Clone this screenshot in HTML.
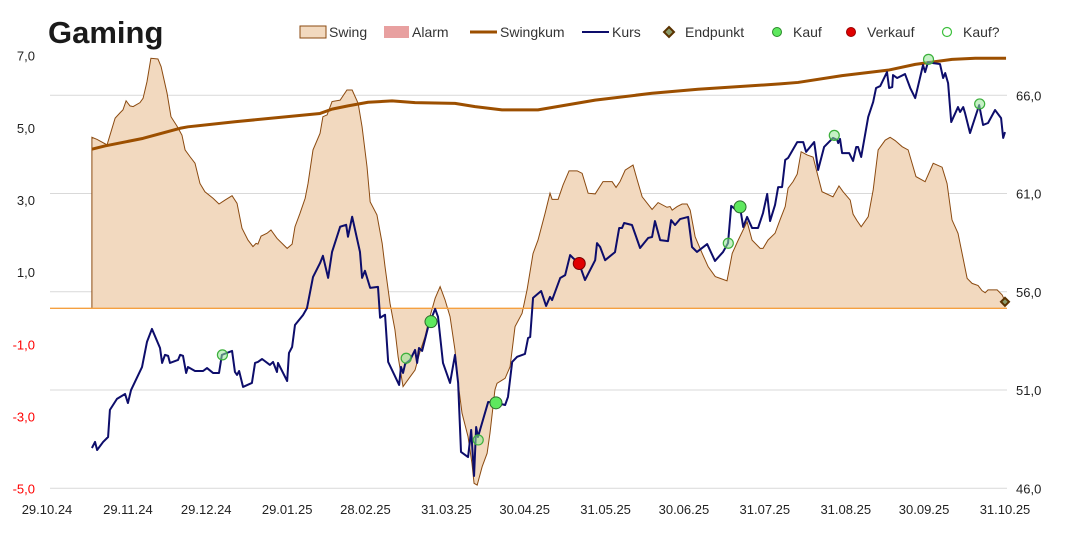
<!DOCTYPE html>
<html><head><meta charset="utf-8"><style>
body{margin:0;background:#fff;width:1067px;height:555px;overflow:hidden;font-family:"Liberation Sans",sans-serif}
svg text{font-family:"Liberation Sans",sans-serif}
</style></head><body>
<svg id="chart" width="1067" height="555" viewBox="0 0 1067 555" xmlns="http://www.w3.org/2000/svg">
<text x="48" y="43" font-size="31" font-weight="bold" fill="#1a1a1a">Gaming</text>
<g id="grid"></g>
<g id="swingG"></g>
<g id="zeroG"></g>
<g id="kumG"></g>
<g id="kursG"></g>
<g id="markG"></g>
<g id="axG"></g>
<g id="legend">
  <g><rect x="300" y="26" width="26" height="12" fill="#f2d9bf" stroke="#8b4a10" stroke-width="1"/><text x="329" y="37" font-size="14" fill="#333">Swing</text></g>
  <g><rect x="384" y="26" width="25" height="12" fill="#e8a0a0"/><text x="412" y="37" font-size="14" fill="#333">Alarm</text></g>
  <g><line x1="470" y1="32" x2="497" y2="32" stroke="#9c4f00" stroke-width="3"/><text x="500" y="37" font-size="14" fill="#333">Swingkum</text></g>
  <g><line x1="582" y1="32" x2="609" y2="32" stroke="#0d0d6b" stroke-width="2"/><text x="612" y="37" font-size="14" fill="#333">Kurs</text></g>
  <g><path d="M669 27 L674 32 L669 37 L664 32 Z" fill="#8a9a6a" stroke="#5a3200" stroke-width="2"/><text x="685" y="37" font-size="14" fill="#333">Endpunkt</text></g>
  <g><circle cx="777" cy="32" r="4.5" fill="#5ee85e" stroke="#2a8a2a" stroke-width="1"/><text x="793" y="37" font-size="14" fill="#333">Kauf</text></g>
  <g><circle cx="851" cy="32" r="4.5" fill="#e00000" stroke="#900" stroke-width="1"/><text x="867" y="37" font-size="14" fill="#333">Verkauf</text></g>
  <g><circle cx="947" cy="32" r="4.5" fill="#fff" stroke="#3cc03c" stroke-width="1.2"/><text x="963" y="37" font-size="14" fill="#333">Kauf?</text></g>
</g>
</svg>
<script>
// day offsets from 29.10.24
const xTickLabels=["29.10.24","29.11.24","29.12.24","29.01.25","28.02.25","31.03.25","30.04.25","31.05.25","30.06.25","31.07.25","31.08.25","30.09.25","31.10.25"];
const xTickDays=[0,31,61,92,122,153,183,214,244,275,306,336,367];
const leftTicks=[-5,-3,-1,1,3,5,7];
const rightTicks=[46,51,56,61,66];
const kursDays=[17.2,18.4,19.2,21.5,23.4,24.1,26.8,29.9,31.0,32.2,36.4,38.3,40.2,43.3,44.1,45.2,46.4,47.1,50.2,51.0,52.1,53.3,54.0,56.7,59.8,61.3,63.6,65.9,67.0,70.9,72.0,72.8,73.6,75.1,78.5,79.7,80.8,82.4,85.4,86.6,88.1,88.5,92.0,92.7,93.9,95.0,98.1,99.6,101.9,104.6,105.7,107.7,109.2,112.3,114.6,115.3,116.9,119.9,120.7,121.8,123.8,126.8,127.6,129.5,130.7,134.9,135.6,136.4,137.2,139.1,141.0,141.8,142.5,143.7,146.0,148.7,149.8,151.7,154.4,156.3,157.5,158.6,161.3,162.5,163.6,164.4,165.1,169.0,172.4,175.5,176.6,178.2,180.1,183.1,184.3,185.1,186.2,189.3,191.2,192.7,193.5,196.6,198.5,200.4,201.5,203.8,206.1,210.0,210.7,211.9,213.8,217.6,219.2,220.3,221.1,224.1,227.2,230.3,231.8,232.9,234.9,237.9,239.1,240.6,242.5,245.6,247.1,249.0,252.9,255.9,259.0,260.9,262.1,263.6,265.5,266.7,268.2,270.1,272.4,274.3,275.9,277.0,278.9,280.1,281.6,282.8,283.9,287.4,289.7,290.8,293.9,295.4,297.7,301.1,302.7,303.1,303.8,304.6,307.3,308.8,310.0,310.7,311.9,314.6,316.5,317.6,319.2,321.8,322.6,323.8,324.1,325.7,328.7,330.7,332.6,335.6,336.4,337.5,339.5,342.1,343.3,344.1,345.2,346.4,349.0,349.8,351.0,351.7,353.6,357.1,358.6,360.5,363.2,365.5,366.3,367.0];
const kursValues=[48.05,48.36,47.95,48.36,48.61,49.99,50.55,50.80,50.34,51.00,52.17,53.45,54.11,53.14,52.38,52.79,52.74,52.38,52.53,52.79,52.74,51.87,52.17,51.97,51.97,52.12,51.87,51.87,52.79,52.99,51.92,51.77,51.97,51.16,51.36,52.38,52.43,52.58,52.28,52.43,51.92,52.38,51.46,52.89,53.19,54.31,54.82,55.17,56.75,57.46,57.83,56.71,58.03,59.31,59.41,58.80,59.82,58.03,56.71,57.07,56.20,56.25,54.68,54.83,52.43,51.26,52.18,51.87,52.33,52.53,53.04,52.38,53.14,52.99,54.21,55.13,54.72,52.38,51.36,52.79,51.36,47.85,47.59,48.97,46.63,49.12,48.61,50.39,50.34,50.24,50.65,52.43,52.69,52.84,53.65,53.70,55.69,56.04,55.28,55.74,55.58,56.70,56.85,57.87,57.72,57.46,56.60,57.61,58.48,58.28,57.61,58.02,59.25,59.25,59.50,59.40,58.23,58.74,58.79,59.60,58.63,58.58,59.65,59.40,59.70,59.81,58.28,58.03,58.43,57.57,58.03,58.48,60.37,60.21,60.31,59.30,59.81,59.25,59.25,60.01,60.98,59.60,60.42,61.33,61.33,62.71,62.81,63.62,63.62,63.12,63.62,62.20,63.37,63.83,63.73,63.57,63.78,63.06,63.06,62.66,63.37,63.37,62.86,64.90,65.66,66.37,66.47,67.18,66.37,66.42,67.03,66.88,67.08,66.37,65.86,67.54,67.18,67.69,67.64,67.59,66.88,67.13,66.62,64.64,65.40,65.15,65.40,65.09,64.08,65.50,64.49,64.59,65.25,64.84,63.83,64.13];
const swingDays=[17.2,19.2,23.0,26.1,28.0,29.1,30.3,31.8,33.0,35.6,36.8,38.3,39.8,42.5,43.7,46.0,47.5,49.8,51.7,52.9,54.8,56.7,58.6,60.5,63.6,65.9,68.2,70.9,72.8,74.7,77.0,78.9,80.1,80.8,82.0,84.3,85.8,88.1,92.0,93.9,95.0,96.9,98.9,100.0,101.9,104.6,105.7,107.3,109.2,112.3,114.9,116.9,119.2,120.7,122.6,123.8,126.4,128.4,129.5,131.4,133.3,134.5,136.4,139.1,141.0,142.9,144.8,146.7,148.7,150.6,152.5,154.4,156.3,157.5,159.0,161.3,162.8,163.6,164.8,166.7,168.6,169.7,171.6,172.4,175.5,177.4,179.3,182.0,183.9,186.2,188.1,190.8,192.7,193.5,195.8,197.7,200.0,203.1,205.0,207.3,210.0,213.0,216.5,218.0,219.5,221.5,224.5,226.1,228.0,231.8,234.1,237.5,238.7,239.5,241.4,243.3,245.2,246.4,248.3,251.0,253.3,256.0,257.9,260.5,262.5,264.8,268.2,270.1,273.2,274.3,276.2,278.9,280.8,282.8,283.9,285.8,287.4,288.9,291.2,293.5,295.4,296.9,301.1,303.4,305.0,307.7,308.8,310.3,311.9,314.6,316.5,318.4,321.1,323.0,324.9,327.6,329.9,332.9,336.4,339.5,342.9,344.8,346.7,349.0,352.5,354.4,356.7,358.2,359.4,360.5,364.0,365.9,367.2];
const swingValues=[4.74,4.68,4.53,5.27,5.42,5.50,5.75,5.61,5.59,5.70,5.82,6.28,6.93,6.91,6.70,5.96,5.31,5.05,4.80,4.39,4.20,4.02,3.46,3.23,3.05,2.89,3.00,3.12,2.91,2.22,1.89,1.71,1.80,1.78,2.00,2.08,2.17,1.94,1.66,1.78,2.26,2.63,3.05,3.46,4.39,4.85,5.31,5.36,5.73,5.77,6.05,6.05,5.68,5.03,3.92,2.95,2.59,1.80,1.15,0.14,-0.60,-1.34,-2.17,-1.90,-1.71,-1.20,-0.79,-0.23,0.28,0.60,0.23,-0.23,-1.16,-2.08,-2.91,-3.56,-4.30,-4.85,-4.90,-4.39,-4.02,-3.46,-2.26,-2.08,-1.94,-1.62,-0.51,-0.14,0.51,1.52,1.89,2.63,3.19,3.02,3.02,3.42,3.81,3.81,3.74,3.19,3.17,3.51,3.51,3.35,3.51,3.83,3.97,3.56,3.09,2.74,2.93,2.80,2.82,2.72,2.82,2.89,2.89,2.72,1.98,1.52,1.15,0.88,0.83,0.76,1.52,1.89,2.40,1.89,1.66,1.66,1.89,2.08,2.45,2.82,3.33,3.51,3.72,4.34,4.25,4.19,3.65,3.23,3.09,3.39,3.23,3.00,2.61,2.43,2.26,2.54,3.28,4.39,4.66,4.74,4.65,4.48,4.39,3.65,3.51,4.02,3.91,3.46,2.45,2.08,0.83,0.69,0.63,0.49,0.43,0.51,0.51,0.37,0.17];
const kumDays=[17.2,22.2,36.8,51.0,54.0,72.0,104.6,109.2,115.3,123.0,132.2,141.0,156.3,164.0,174.3,188.1,210.0,231.8,249.4,280.8,287.7,304.6,322.2,332.6,346.7,355.6,367.4];
const kumValues=[4.41,4.50,4.71,4.99,5.03,5.17,5.40,5.52,5.61,5.71,5.75,5.70,5.68,5.59,5.50,5.50,5.77,5.96,6.07,6.22,6.26,6.45,6.60,6.76,6.90,6.93,6.93];
const kaufDays=[147.1,172.0,265.5];
const kaufValues=[54.48,50.35,60.32];
const verkaufDays=[203.9];
const verkaufValues=[57.44];
const kaufQDays=[67.2,137.6,165.2,261.0,301.6,337.7,357.3];
const kaufQValues=[52.79,52.62,48.46,58.47,63.96,67.83,65.56];
const endDays=[367.0];
const endValues=[0.18];

const NS="http://www.w3.org/2000/svg";
const X0=47,X1=1005,D1=367, PL=50,PR=1007;
const xS=d=>X0+d*(X1-X0)/D1;
const yL=v=>308.3-v*36.08;
const yR=v=>488.3-(v-46)*19.65;
function mk(tag,attrs,parent){const e=document.createElementNS(NS,tag);for(const k in attrs)e.setAttribute(k,attrs[k]);parent.appendChild(e);return e;}
const G=id=>document.getElementById(id);

rightTicks.forEach(t=>{
  const l=mk('line',{x1:PL,x2:PR,y1:yR(t),y2:yR(t),stroke:'#d9d9d9','stroke-width':1},G('grid'));
  
  
  const tx=mk('text',{x:1016,y:yR(t)+5,'font-size':13,fill:'#222'},G('axG'));
  tx.textContent=t.toFixed(1).replace('.',',');
  
  
});
leftTicks.forEach(t=>{
  const tx=mk('text',{x:35,y:yL(t)+5,'font-size':13,fill:t<0?'#ff0000':'#222','text-anchor':'end'},G('axG'));
  tx.textContent=t.toFixed(1).replace('.',',');
  
  
});
xTickLabels.forEach((s,i)=>{
  const tx=mk('text',{x:xS(xTickDays[i]),y:514,'font-size':13,fill:'#222','text-anchor':'middle'},G('axG'));
  tx.textContent=s;
  
  
});
// swing area
let p=`M${xS(swingDays[0])},${yL(0)} `+swingDays.map((d,i)=>`L${xS(d)},${yL(swingValues[i])}`).join(' ')+` L${xS(swingDays[swingDays.length-1])},${yL(0)} Z`;
const area=mk('path',{d:p,fill:'#f2d9bf',stroke:'none'},G('swingG'));


const sl=mk('path',{d:`M${xS(swingDays[0])},${yL(0)} `+swingDays.map((d,i)=>`L${xS(d)},${yL(swingValues[i])}`).join(' '),fill:'none',stroke:'#8b4a10','stroke-width':1},G('swingG'));


const z=mk('line',{x1:PL,x2:PR,y1:yL(0),y2:yL(0),stroke:'#f5a040','stroke-width':1.3},G('zeroG'));


const kl=mk('path',{d:kumDays.map((d,i)=>`${i?'L':'M'}${xS(d)},${yL(kumValues[i])}`).join(' '),fill:'none',stroke:'#9c4f00','stroke-width':3,'stroke-linejoin':'round'},G('kumG'));


const ku=mk('path',{d:kursDays.map((d,i)=>`${i?'L':'M'}${xS(d)},${yR(kursValues[i])}`).join(' '),fill:'none',stroke:'#0d0d6b','stroke-width':2,'stroke-linejoin':'round'},G('kursG'));


kaufQDays.forEach((d,i)=>{
  const c=mk('circle',{cx:xS(d),cy:yR(kaufQValues[i]),r:5,fill:'rgba(150,230,150,0.55)',stroke:'#3cb03c','stroke-width':1.2},G('markG'));
  
  
});
kaufDays.forEach((d,i)=>{
  const c=mk('circle',{cx:xS(d),cy:yR(kaufValues[i]),r:6,fill:'#5ee85e',stroke:'#2a6a2a','stroke-width':1},G('markG'));
  
  
});
verkaufDays.forEach((d,i)=>{
  const c=mk('circle',{cx:xS(d),cy:yR(verkaufValues[i]),r:6,fill:'#e00000',stroke:'#700','stroke-width':1},G('markG'));
  
  
});
endDays.forEach((d,i)=>{
  const x=xS(d),y=yL(endValues[i]);
  const e=mk('path',{d:`M${x} ${y-4} L${x+4} ${y} L${x} ${y+4} L${x-4} ${y} Z`,fill:'#8a9a6a',stroke:'#5a3200','stroke-width':2},G('markG'));
  
  
});
</script>
</body></html>
